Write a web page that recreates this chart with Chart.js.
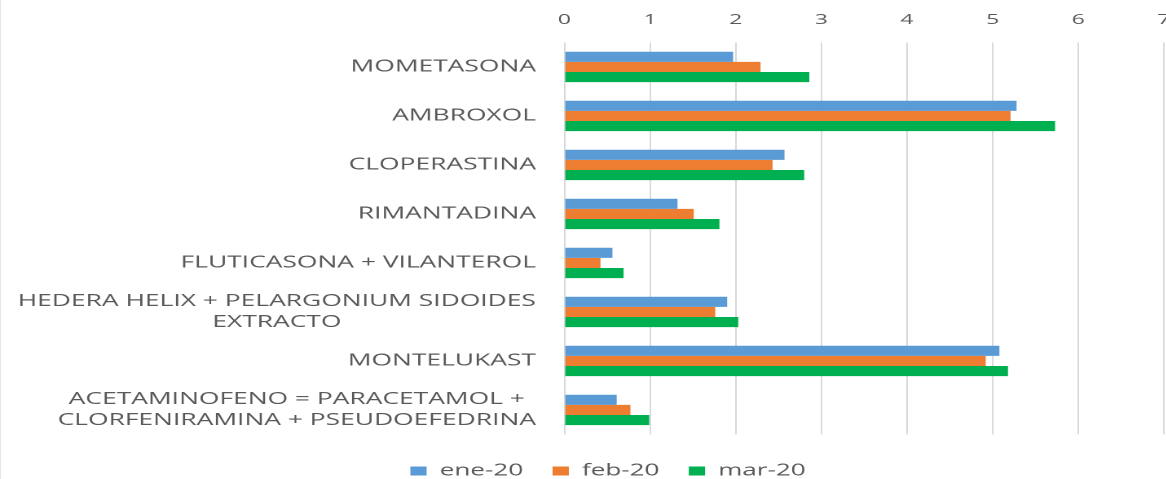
<!DOCTYPE html>
<html lang="es">
<head>
<meta charset="utf-8">
<title>Ventas por principio activo</title>
<script src="https://cdn.jsdelivr.net/npm/chart.js@4.4.1/dist/chart.umd.min.js"></script>
<style>
    html, body {
        margin: 0;
        padding: 0;
        overflow: hidden;
        background: #ffffff;
    }
    #frame {
        position: absolute;
        left: 0;
        top: 0;
        width: 1px;
        height: 479px;
        background: #e6e6e6;
    }
    /* the original picture is stretched sideways, so the chart is drawn narrow and widened */
    #chart-box {
        position: absolute;
        left: 0;
        top: 0;
        width: 732px;
        height: 489px;
        transform: scaleX(1.63);
        transform-origin: 0 0;
    }
</style>
</head>
<body>
<div id="frame"></div>
<div id="chart-box">
    <canvas id="sales-chart"></canvas>
</div>
<script>
const categories = [
    'MOMETASONA',
    'AMBROXOL',
    'CLOPERASTINA',
    'RIMANTADINA',
    'FLUTICASONA + VILANTEROL',
    ['HEDERA HELIX + PELARGONIUM SIDOIDES', 'EXTRACTO'],
    'MONTELUKAST',
    ['ACETAMINOFENO = PARACETAMOL +', 'CLORFENIRAMINA + PSEUDOEFEDRINA']
];
const seriesNames = ['ene-20', 'feb-20', 'mar-20'];
const ene20 = [1.97, 5.28, 2.57, 1.32, 0.56, 1.90, 5.08, 0.61];
const feb20 = [2.29, 5.21, 2.43, 1.51, 0.42, 1.76, 4.92, 0.77];
const mar20 = [2.86, 5.73, 2.80, 1.81, 0.69, 2.03, 5.18, 0.99];
const xTicks = [0, 1, 2, 3, 4, 5, 6, 7];

const textColor = '#595959';
const colors = ['#5B9BD5', '#ED7D31', '#00B050'];

// category names: right aligned to the axis, lines of one name centred on each other
const categoryLabels = {
    id: 'categoryLabels',
    afterDraw(chart) {
        const ctx = chart.ctx;
        const y = chart.scales.y;
        const right = y.right - 17.5;
        ctx.save();
        ctx.font = '16.2px "Open Sans"';
        ctx.fillStyle = textColor;
        ctx.textAlign = 'center';
        ctx.textBaseline = 'middle';
        categories.forEach((label, i) => {
            const lines = Array.isArray(label) ? label : [label];
            const widest = Math.max(...lines.map(l => ctx.measureText(l).width));
            const cx = right - widest / 2;
            const cy = y.getPixelForValue(i);
            lines.forEach((line, j) => {
                ctx.fillText(line, cx, cy + (j - (lines.length - 1) / 2) * 21);
            });
        });
        ctx.restore();
    }
};

const ctx = document.getElementById('sales-chart').getContext('2d');

new Chart(ctx, {
    type: 'bar',
    data: {
        labels: categories,
        datasets: [ene20, feb20, mar20].map((values, i) => ({
            label: seriesNames[i],
            data: values,
            backgroundColor: colors[i],
            borderWidth: 0,
            categoryPercentage: 0.62,
            barPercentage: 1.0
        }))
    },
    options: {
        indexAxis: 'y',
        responsive: true,
        maintainAspectRatio: false,
        devicePixelRatio: 2,
        animation: false,
        layout: {
            padding: { left: 14, right: 0, top: 0, bottom: 0 }
        },
        scales: {
            x: {
                position: 'top',
                min: 0,
                max: 7,
                afterBuildTicks: (scale) => {
                    scale.ticks = xTicks.map(v => ({ value: v }));
                },
                afterFit: (scale) => {
                    scale.height = 42.4;
                },
                grid: {
                    color: '#d9d9d9',
                    lineWidth: 1,
                    drawTicks: false
                },
                border: { display: false },
                ticks: {
                    padding: 14,
                    color: textColor,
                    font: { family: 'Open Sans', size: 14 }
                }
            },
            y: {
                afterFit: (scale) => {
                    scale.width = 346.3 - 14;
                },
                grid: { display: false },
                border: { display: false },
                ticks: { display: false }
            }
        },
        plugins: {
            legend: {
                display: true,
                position: 'bottom',
                title: {
                    display: true,
                    text: '',
                    font: { size: 10.6, lineHeight: 1 },
                    padding: 0
                },
                labels: {
                    boxWidth: 10,
                    boxHeight: 9,
                    padding: 18,
                    color: textColor,
                    font: { family: 'Open Sans', size: 16 }
                }
            },
            tooltip: { enabled: false }
        }
    },
    plugins: [categoryLabels]
});
</script>
</body>
</html>
